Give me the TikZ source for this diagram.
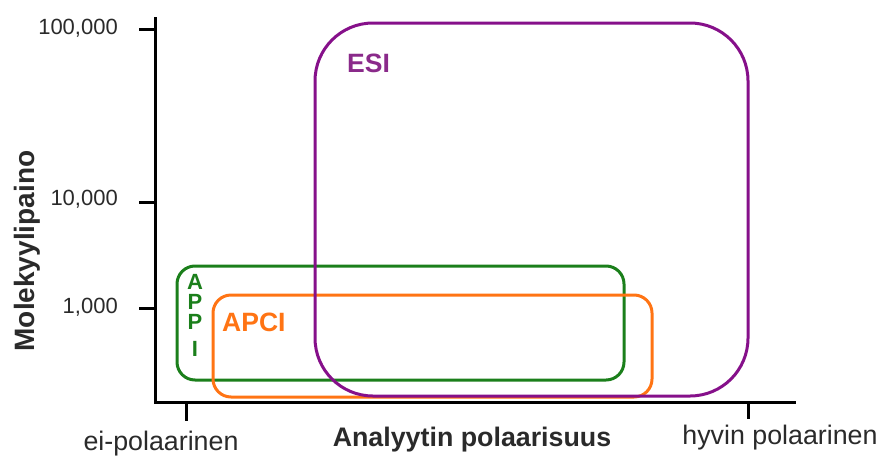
\documentclass[tikz,border=0pt]{standalone}
\usepackage{fontspec}
\setmainfont{Liberation Sans}
\definecolor{txtgray}{HTML}{2A2A2A}
\definecolor{appigreen}{HTML}{1B7F1B}
\definecolor{apciorange}{HTML}{FF7414}
\definecolor{esipurple}{HTML}{86108A}
\definecolor{esitext}{HTML}{8A2A8A}
\begin{document}
\begin{tikzpicture}[x=1pt,y=-1pt,
  axis/.style={line width=3pt, black},
  boxline/.style={line width=3pt},
  ticklab/.style={anchor=base east, inner sep=0pt, font=\fontsize{22}{24}\selectfont, text=txtgray},
  axlab/.style={anchor=base, inner sep=0pt, font=\fontsize{26.8}{30}\selectfont, text=txtgray},
  axtitle/.style={anchor=base, inner sep=0pt, font=\fontsize{26.8}{30}\selectfont\bfseries, text=txtgray},
  applet/.style={inner sep=0pt, font=\fontsize{22}{24}\selectfont\bfseries, text=appigreen}]
\useasboundingbox (0,0) rectangle (882,455);
% boxes
\draw[boxline, appigreen, rounded corners=18pt] (177,266) rectangle (624,380);
\draw[boxline, apciorange, rounded corners=18pt] (213,295) rectangle (652,397);
\draw[boxline, esipurple, rounded corners=58pt] (315,23) rectangle (748,396);
% axes
\coordinate (ytop) at (155,17);
\coordinate (origin) at (155,402);
\coordinate (xend) at (796,402);
\draw[axis] (ytop) -- (origin) -- (xend);
\coordinate (t1a) at (139,29);  \coordinate (t1b) at (155,29);
\coordinate (t2a) at (139,202); \coordinate (t2b) at (155,202);
\coordinate (t3a) at (139,308); \coordinate (t3b) at (155,308);
\draw[axis] (t1a) -- (t1b);
\draw[axis] (t2a) -- (t2b);
\draw[axis] (t3a) -- (t3b);
\coordinate (xt1a) at (186,402); \coordinate (xt1b) at (186,421);
\coordinate (xt2a) at (748,402); \coordinate (xt2b) at (748,419);
\draw[axis] (xt1a) -- (xt1b);
\draw[axis] (xt2a) -- (xt2b);
% tick labels
\node[ticklab] (l100k) at (118,34) {100,000};
\node[ticklab] (l10k) at (118,205) {10,000};
\node[ticklab] (l1k) at (118,313) {1,000};
% axis labels
\node[axlab] (nonpol) at (161,450) {ei-polaarinen};
\node[axlab] (pol) at (780,444) {hyvin polaarinen};
\node[axtitle] (xtitle) at (472,446) {Analyytin polaarisuus};
\node[axtitle, rotate=90, font=\fontsize{28}{30}\selectfont\bfseries] (ytitle) at (34,251) {Molekyylipaino};
% region labels
\node[anchor=base west, inner sep=0pt, font=\fontsize{26.5}{30}\selectfont\bfseries, text=esitext] (esi) at (347,72) {ESI};
\node[anchor=base west, inner sep=0pt, font=\fontsize{26.5}{30}\selectfont\bfseries, text=apciorange] (apci) at (222,331) {APCI};
\node[applet, anchor=base] (a1) at (195,289) {A};
\node[applet, anchor=base] (a2) at (195,309) {P};
\node[applet, anchor=base] (a3) at (195,329) {P};
\node[applet, anchor=base] (a4) at (195,356) {I};
\end{tikzpicture}
\end{document}
